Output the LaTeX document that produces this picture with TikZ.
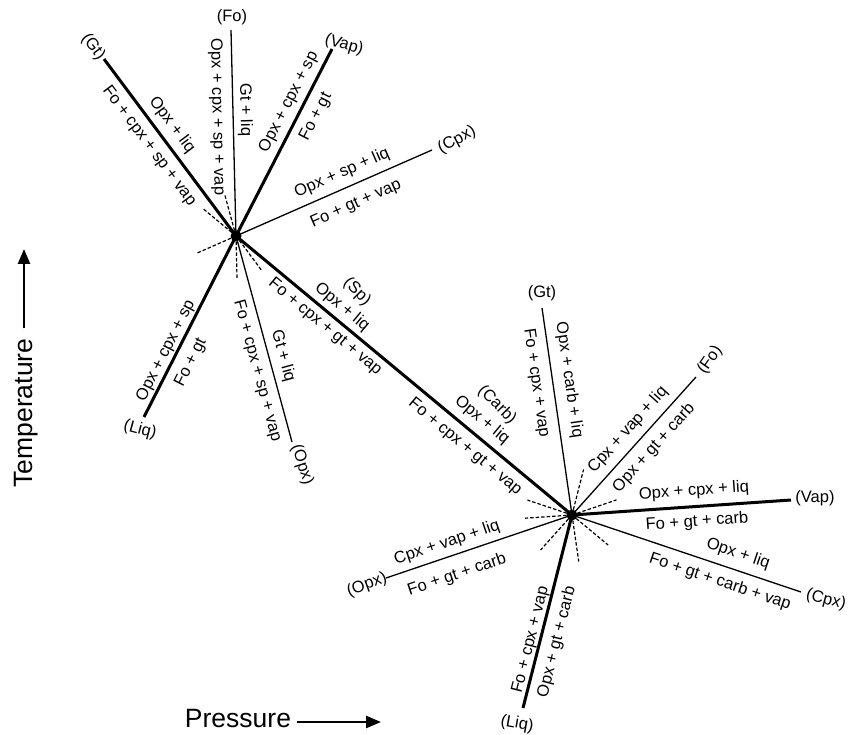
\documentclass[tikz,border=0pt]{standalone}
\usepackage{fontspec}
\setmainfont{Liberation Sans}
\usetikzlibrary{calc,arrows.meta}
\begin{document}
\begin{tikzpicture}[x=1pt,y=-1pt,
  lbl/.style={font=\fontsize{16.5}{18}\selectfont, inner sep=0pt},
  axlbl/.style={font=\fontsize{26.5}{30}\selectfont, inner sep=0pt},
  thickln/.style={line width=3pt},
  thinln/.style={line width=1.3pt},
  metast/.style={line width=1.2pt, dash pattern=on 3.5pt off 2pt},
  ipt/.style={circle, fill=black, minimum size=11pt, inner sep=0pt},
  axarrow/.style={line width=2.6pt, -{Triangle[length=15pt,width=12pt]}}]
\useasboundingbox (0,0) rectangle (848,735);

% invariant points
\coordinate (A) at (236,236);
\coordinate (B) at (572,515);
% line ends around A
\coordinate (aGt) at (104,59);
\coordinate (aFo) at (231,30);
\coordinate (aVap) at (332,49);
\coordinate (aCpx) at (432,150);
\coordinate (aLiq) at (144,417);
\coordinate (aOpx) at (292,442);
% line ends around B
\coordinate (bGt) at (542,308);
\coordinate (bFo) at (696,377);
\coordinate (bVap) at (791,500);
\coordinate (bCpx) at (801,592);
\coordinate (bLiq) at (523,708);
\coordinate (bOpx) at (386,578);

% metastable extensions
\foreach \e in {aGt,aFo,aVap,aCpx,aLiq,aOpx,B}{
  \coordinate (xA\e) at ($(A)!-44pt!(\e)$);
  \draw[metast] (A) -- (xA\e);
}
\foreach \e in {bGt,bFo,bVap,bCpx,bLiq,bOpx,A}{
  \coordinate (xB\e) at ($(B)!-47pt!(\e)$);
  \draw[metast] (B) -- (xB\e);
}

% univariant lines
\draw[thickln] (A) -- (aGt);
\draw[thinln] (A) -- (aFo);
\draw[thickln] (A) -- (aVap);
\draw[thinln] (A) -- (aCpx);
\draw[thickln] (A) -- (aLiq);
\draw[thinln] (A) -- (aOpx);
\draw[thickln] (A) -- (B);
\draw[thinln] (B) -- (bGt);
\draw[thinln] (B) -- (bFo);
\draw[thickln] (B) -- (bVap);
\draw[thinln] (B) -- (bCpx);
\draw[thickln] (B) -- (bLiq);
\draw[thinln] (B) -- (bOpx);

\node[ipt] (ptA) at (A) {};
\node[ipt] (ptB) at (B) {};

% labels around A
\node[lbl, rotate=-53] (nAGt) at (93,47) {(Gt)};
\node[lbl, rotate=-53.3] (lAGt1) at (172,125) {Opx + liq};
\node[lbl, rotate=-53.3] (lAGt2) at (149,146) {Fo + cpx + sp + vap};

\node[lbl] (nAFo) at (232,17) {(Fo)};
\node[lbl, rotate=-88.6] (lAFo1) at (217,117) {Opx + cpx + sp + vap};
\node[lbl, rotate=-88.6] (lAFo2) at (245,110) {Gt + liq};

\node[lbl, rotate=-16] (nAVap) at (344,45) {(Vap)};
\node[lbl, rotate=62.8] (lAVap1) at (289,102) {Opx + cpx + sp};
\node[lbl, rotate=62.8] (lAVap2) at (316,117) {Fo + gt};

\node[lbl, rotate=28] (nACpx) at (457,140) {(Cpx)};
\node[lbl, rotate=23.7] (lACpx1) at (342,173) {Opx + sp + liq};
\node[lbl, rotate=23.7] (lACpx2) at (356,204) {Fo + gt + vap};

\node[lbl, rotate=-15] (nALiq) at (140,430) {(Liq)};
\node[lbl, rotate=63.1] (lALiq1) at (166,351) {Opx + cpx + sp};
\node[lbl, rotate=63.1] (lALiq2) at (191,363) {Fo + gt};

\node[lbl, rotate=-72] (nAOpx) at (302,465) {(Opx)};
\node[lbl, rotate=-74.8] (lAOpx1) at (257,371) {Fo + cpx + sp + vap};
\node[lbl, rotate=-74.8] (lAOpx2) at (283,356) {Gt + liq};

% labels on A-B
\node[lbl, rotate=-45] (nSp) at (357,292) {(Sp)};
\node[lbl, rotate=-39.7] (lAB1) at (342,307) {Opx + liq};
\node[lbl, rotate=-39.7] (lAB2) at (325,327) {Fo + cpx + gt + vap};
\node[lbl, rotate=-45] (nCarb) at (497,405) {(Carb)};
\node[lbl, rotate=-39.7] (lAB3) at (482,420) {Opx + liq};
\node[lbl, rotate=-39.7] (lAB4) at (465,447) {Fo + cpx + gt + vap};

% labels around B
\node[lbl] (nBGt) at (542,293) {(Gt)};
\node[lbl, rotate=-81.8] (lBGt1) at (536,383) {Fo + cpx + vap};
\node[lbl, rotate=-81.8] (lBGt2) at (569,380) {Opx + carb + liq};

\node[lbl, rotate=55] (nBFo) at (710,360) {(Fo)};
\node[lbl, rotate=48.1] (lBFo1) at (628,430) {Cpx + vap + liq};
\node[lbl, rotate=48.1] (lBFo2) at (654,448) {Opx + gt + carb};

\node[lbl] (nBVap) at (815,498) {(Vap)};
\node[lbl, rotate=3.9] (lBVap1) at (694,491) {Opx + cpx + liq};
\node[lbl, rotate=3.9] (lBVap2) at (697,522) {Fo + gt + carb};

\node[lbl, rotate=-15] (nBCpx) at (826,600) {(Cpx)};
\node[lbl, rotate=-18.6] (lBCpx1) at (738,554) {Opx + liq};
\node[lbl, rotate=-18.6] (lBCpx2) at (720,582) {Fo + gt + carb + vap};

\node[lbl, rotate=-10] (nBLiq) at (517,724) {(Liq)};
\node[lbl, rotate=75.8] (lBLiq1) at (531,640) {Fo + cpx + vap};
\node[lbl, rotate=75.8] (lBLiq2) at (557,642) {Opx + gt + carb};

\node[lbl, rotate=20] (nBOpx) at (367,585) {(Opx)};
\node[lbl, rotate=18.7] (lBOpx1) at (447,543) {Cpx + vap + liq};
\node[lbl, rotate=18.7] (lBOpx2) at (457,575) {Fo + gt + carb};

% axes
\node[axlbl] (pres) at (238,719) {Pressure};
\coordinate (presEnd) at (381,722);
\draw[axarrow] ($(pres.east)+(6,3)$) -- (presEnd);
\node[axlbl, rotate=90] (temp) at (26,413) {Temperature};
\coordinate (tempEnd) at (24,249);
\draw[axarrow] ($(temp.east)+(-2,-10)$) -- (tempEnd);
\end{tikzpicture}
\end{document}
